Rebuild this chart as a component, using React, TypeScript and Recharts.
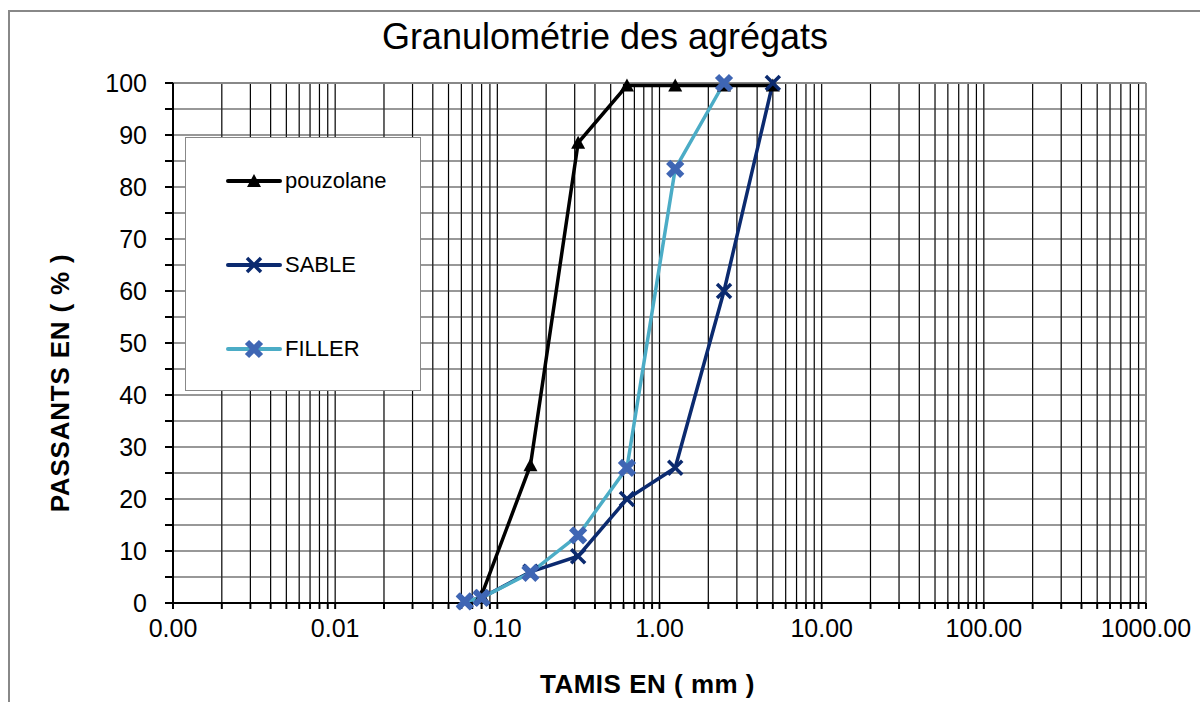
import React from "react";
import {
  CartesianGrid,
  Line,
  LineChart,
  ReferenceLine,
  XAxis,
  YAxis,
} from "recharts";

// sieve openings (mm)
const sizes = [0.063, 0.08, 0.16, 0.315, 0.63, 1.25, 2.5, 5];
const pouzolane = [null, 1.5, 26.5, 88.5, 99.5, 99.5, 99.5, 99.5];
const sable = [0.3, 1, 6, 9, 20, 26, 60, 100];
const filler = [0.3, 1, 5.8, 13, 26, 83.5, 100, null];

const decades = [0.001, 0.01, 0.1, 1, 10, 100, 1000];
const minorSteps = [2, 3, 4, 5, 6, 7, 8, 9];
const yTicks = [0, 5, 10, 15, 20, 25, 30, 35, 40, 45, 50, 55, 60, 65, 70, 75, 80, 85, 90, 95, 100];

const legendItems = [
  { name: "pouzolane", color: "#000000", marker: "triangle" },
  { name: "SABLE", color: "#0B2A6F", marker: "cross" },
  { name: "FILLER", color: "#4BACC6", marker: "star" },
];

const data = sizes.map((s, i) => ({
  size: s,
  pouzolane: pouzolane[i],
  sable: sable[i],
  filler: filler[i],
}));

const xTicks: number[] = [];
decades.forEach((d, i) => {
  xTicks.push(d);
  if (i < decades.length - 1) minorSteps.forEach((m) => xTicks.push(d * m));
});

const font = "'Liberation Sans', Arial, sans-serif";

function Marker({ kind, x, y }: { kind: string; x: number; y: number }) {
  if (kind === "triangle") {
    return <path d={`M${x},${y - 7} L${x + 7},${y + 6} L${x - 7},${y + 6} Z`} fill="#000" />;
  }
  if (kind === "cross") {
    return (
      <path
        d={`M${x - 7},${y - 7} L${x + 7},${y + 7} M${x + 7},${y - 7} L${x - 7},${y + 7}`}
        stroke="#0B2A6F"
        strokeWidth={3.5}
      />
    );
  }
  return (
    <path
      d={`M${x - 7},${y - 7} L${x + 7},${y + 7} M${x + 7},${y - 7} L${x - 7},${y + 7}`}
      stroke="#3F66B4"
      strokeWidth={6}
    />
  );
}

const makeDot = (kind: string) => (props: any) => {
  const { cx, cy, index, value } = props;
  if (value == null || cx == null || cy == null) return <g key={`${kind}-${index}`} />;
  return (
    <g key={`${kind}-${index}`}>
      <Marker kind={kind} x={cx} y={cy} />
    </g>
  );
};

export default function App() {
  return (
    <div
      style={{
        position: "absolute",
        left: 0,
        top: 0,
        width: 1200,
        height: 702,
        background: "#fff",
        overflow: "hidden",
        fontFamily: font,
      }}
    >
      <div
        style={{
          position: "absolute",
          left: 8,
          top: 10,
          width: 1300,
          height: 800,
          borderLeft: "2px solid #888",
          borderTop: "2px solid #888",
        }}
      />
      <LineChart
        width={1200}
        height={702}
        data={data}
        margin={{ top: 83, right: 54, bottom: 39, left: 0 }}
      >
        <CartesianGrid horizontal={false} stroke="#000" strokeWidth={1.2} />
        <CartesianGrid vertical={false} stroke="#333" strokeWidth={1.2} />
        <XAxis
          dataKey="size"
          type="number"
          scale="log"
          domain={[0.001, 1000]}
          allowDataOverflow
          ticks={xTicks}
          interval={0}
          height={60}
          tickSize={6}
          tickMargin={10}
          tickFormatter={(v: number) =>
            decades.some((d) => Math.abs(d - v) < d * 1e-6) ? v.toFixed(2) : ""
          }
          stroke="#000"
          strokeWidth={2}
          tick={{ fill: "#000", fontSize: 25, fontFamily: font }}
        />
        <YAxis
          type="number"
          domain={[0, 100]}
          ticks={yTicks}
          interval={0}
          width={173}
          tickSize={8}
          tickMargin={18}
          tickFormatter={(v: number) => (v % 10 === 0 ? String(v) : "")}
          stroke="#000"
          strokeWidth={2}
          tick={{ fill: "#000", fontSize: 25, fontFamily: font }}
        />
        <ReferenceLine y={100} stroke="#888" strokeWidth={2} />
        <ReferenceLine x={1000} stroke="#888" strokeWidth={2} />
        <Line
          dataKey="pouzolane"
          stroke="#000"
          strokeWidth={3.5}
          dot={makeDot("triangle")}
          isAnimationActive={false}
        />
        <Line
          dataKey="sable"
          stroke="#0B2A6F"
          strokeWidth={3.5}
          dot={makeDot("cross")}
          isAnimationActive={false}
        />
        <Line
          dataKey="filler"
          stroke="#4BACC6"
          strokeWidth={3.5}
          dot={makeDot("star")}
          isAnimationActive={false}
        />
      </LineChart>

      <div
        style={{
          position: "absolute",
          left: 0,
          top: 16,
          width: 1210,
          textAlign: "center",
          fontSize: 36,
          color: "#000",
        }}
      >
        Granulométrie des agrégats
      </div>
      <div
        style={{
          position: "absolute",
          left: 150,
          top: 669,
          width: 995,
          textAlign: "center",
          fontSize: 26,
          letterSpacing: 0.5,
          fontWeight: "bold",
          color: "#000",
        }}
      >
        TAMIS EN ( mm )
      </div>
      <div
        style={{
          position: "absolute",
          left: 60 - 200,
          top: 383 - 15,
          width: 400,
          height: 30,
          lineHeight: "30px",
          textAlign: "center",
          fontSize: 26,
          letterSpacing: 0.8,
          fontWeight: "bold",
          color: "#000",
          transform: "rotate(-90deg)",
        }}
      >
        PASSANTS EN ( % )
      </div>

      <div
        style={{
          position: "absolute",
          left: 185,
          top: 137,
          width: 234,
          height: 252,
          background: "#fff",
          border: "1px solid #888",
        }}
      >
        {legendItems.map((item, i) => (
          <div
            key={item.name}
            style={{
              position: "absolute",
              left: 40,
              top: 43 + i * 84 - 15,
              height: 30,
              display: "flex",
              alignItems: "center",
            }}
          >
            <svg width={56} height={30}>
              <line x1={2} y1={15} x2={54} y2={15} stroke={item.color} strokeWidth={4} strokeLinecap="round" />
              <Marker kind={item.marker} x={28} y={15} />
            </svg>
            <span style={{ fontSize: 22, marginLeft: 3, color: "#000" }}>{item.name}</span>
          </div>
        ))}
      </div>
    </div>
  );
}
